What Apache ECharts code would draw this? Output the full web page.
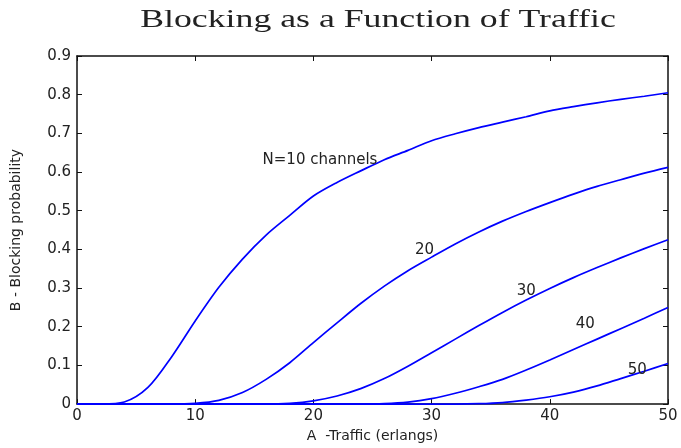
<!DOCTYPE html>
<html lang="en">
<head>
    <meta charset="UTF-8">
    <title>Blocking as a Function of Traffic</title>
    <script src="https://cdn.jsdelivr.net/npm/echarts@6/dist/echarts.min.js"></script>
    <style>
        html, body { margin: 0; padding: 0; background: #fff; }
        .chart { width: 681px; height: 448px; }
    </style>
</head>
<body>
<div class="chart"></div>
<script>
    // traffic A in erlangs (x axis)
    let traffic = [0, 2, 4, 6, 8, 10, 12, 14, 16, 18, 20, 22, 24, 26, 28, 30, 32, 34, 36, 38, 40, 42, 44, 46, 48, 50];

    // blocking probability, one list per channel count
    let n10 = [0, 0.0001, 0.0053, 0.043, 0.122, 0.215, 0.302, 0.375, 0.437, 0.488, 0.538, 0.573, 0.603, 0.632, 0.656, 0.681, 0.699, 0.715, 0.729, 0.743, 0.758, 0.769, 0.779, 0.788, 0.796, 0.805];
    let n20 = [0, 0, 0, 0, 0, 0.0019, 0.0098, 0.030, 0.064, 0.107, 0.159, 0.21, 0.26, 0.305, 0.345, 0.380, 0.414, 0.445, 0.473, 0.498, 0.521, 0.543, 0.563, 0.580, 0.597, 0.612];
    let n30 = [0, 0, 0, 0, 0, 0, 0, 0, 0, 0.002, 0.0085, 0.021, 0.040, 0.066, 0.098, 0.133, 0.168, 0.203, 0.237, 0.269, 0.299, 0.327, 0.353, 0.378, 0.402, 0.425];
    let n40 = [0, 0, 0, 0, 0, 0, 0, 0, 0, 0, 0, 0, 0, 0.001, 0.005, 0.014, 0.028, 0.045, 0.064, 0.088, 0.114, 0.141, 0.168, 0.195, 0.222, 0.250];
    let n50 = [0, 0, 0, 0, 0, 0, 0, 0, 0, 0, 0, 0, 0, 0, 0, 0, 0, 0.001, 0.004, 0.0105, 0.019, 0.031, 0.047, 0.066, 0.085, 0.105];

    let curves = [n10, n20, n30, n40, n50];
    let curveNames = ['N=10 channels', '20', '30', '40', '50'];
    // where each curve name sits, in data units [A, B]
    let nameSpots = [[15.7, 0.632], [28.6, 0.398], [37.2, 0.293], [42.2, 0.207], [46.6, 0.089]];

    let chart = echarts.init(document.querySelector('.chart'));

    let font = 'DejaVu Sans';
    let axisLine = {show: true, onZero: false, lineStyle: {color: '#111', width: 1.5}};
    let tick = {inside: true, length: 5, lineStyle: {color: '#111'}};

    let series = curves.map((vals, i) => ({
        type: 'line',
        name: curveNames[i],
        data: traffic.map((a, k) => [a, vals[k]]),
        showSymbol: false,
        smooth: 0.3,
        lineStyle: {color: '#0000ff', width: 1.7},
        z: 3,
        markPoint: {
            symbol: 'circle',
            symbolSize: 0,
            silent: true,
            label: {
                show: true,
                position: 'right',
                distance: 0,
                formatter: curveNames[i],
                color: '#222',
                fontFamily: font,
                fontSize: 15
            },
            data: [{coord: nameSpots[i]}]
        }
    }));

    chart.setOption({
        animation: false,
        grid: {left: 77, right: 13, top: 56, bottom: 39},
        graphic: [
            {
                type: 'text',
                x: 378,
                y: 8,
                originX: 0,
                scaleX: 1.43,
                style: {
                    text: 'Blocking as a Function of Traffic',
                    font: '25px "Liberation Serif"',
                    fill: '#222',
                    align: 'center'
                }
            }
        ],
        xAxis: [
            {
                type: 'value',
                min: 0, max: 50, interval: 10,
                name: 'A  -Traffic (erlangs)',
                nameLocation: 'middle',
                nameGap: 24,
                nameTextStyle: {fontFamily: font, fontSize: 14, color: '#222'},
                axisLine: axisLine,
                axisTick: tick,
                axisLabel: {fontFamily: font, fontSize: 15, color: '#222', margin: 5},
                splitLine: {show: false}
            },
            {
                type: 'value', position: 'top',
                min: 0, max: 50, interval: 10,
                axisLine: axisLine,
                axisTick: tick,
                axisLabel: {show: false},
                splitLine: {show: false}
            }
        ],
        yAxis: [
            {
                type: 'value',
                min: 0, max: 0.9, interval: 0.1,
                name: 'B - Blocking probability',
                nameLocation: 'middle',
                nameGap: 54,
                nameTextStyle: {fontFamily: font, fontSize: 14, color: '#222'},
                axisLine: axisLine,
                axisTick: tick,
                axisLabel: {
                    fontFamily: font, fontSize: 15, color: '#222', margin: 6,
                    formatter: v => v === 0 ? '0' : v.toFixed(1)
                },
                splitLine: {show: false}
            },
            {
                type: 'value', position: 'right',
                min: 0, max: 0.9, interval: 0.1,
                axisLine: axisLine,
                axisTick: tick,
                axisLabel: {show: false},
                splitLine: {show: false}
            }
        ],
        series
    });
</script>
</body>
</html>
